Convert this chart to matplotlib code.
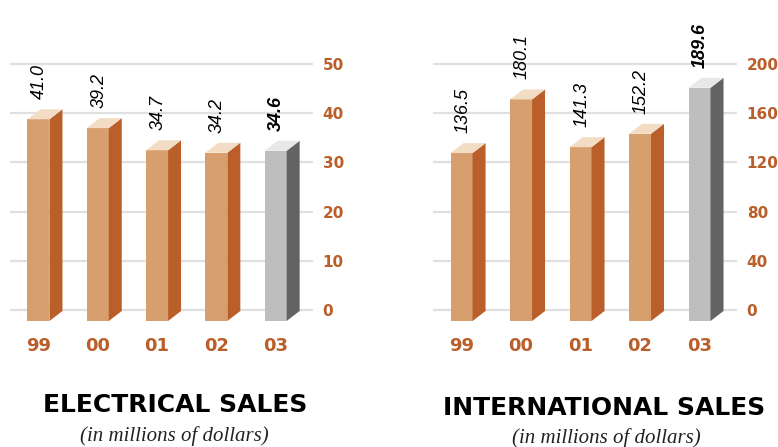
import matplotlib.pyplot as plt
from matplotlib.patches import Polygon

years = ['99', '00', '01', '02', '03']
electrical = [41.0, 39.2, 34.7, 34.2, 34.6]
international = [136.5, 180.1, 141.3, 152.2, 189.6]

ORANGE = '#BA5E2A'
FRONT, SIDE, TOP = '#D79E6E', '#BA5E2A', '#F2DCC4'
G_FRONT, G_SIDE, G_TOP = '#BEBEBE', '#636363', '#E8E8E8'

W, H = 778, 447
fig = plt.figure(figsize=(W / 100, H / 100), dpi=100)


def draw_panel(left_px, right_px, values, ymax, step):
    ax = fig.add_axes([left_px / W, 117 / H, (right_px - left_px) / W, 290 / H])
    ppu = 246 / ymax                      # pixels per y unit
    xlo, xhi = -0.48, 4.63
    upx = (xhi - xlo) / (right_px - left_px)  # x units per pixel
    ax.set_xlim(xlo, xhi)
    ax.set_ylim(-20 / ppu, ymax + 24 / ppu)

    bw = 22 * upx
    dx, dy = 13 * upx, 10 / ppu
    base = -11 / ppu
    xs = range(len(values))
    for i, v in zip(xs, values):
        last = i == len(values) - 1
        fc, sc, tc = (G_FRONT, G_SIDE, G_TOP) if last else (FRONT, SIDE, TOP)
        top = base + v
        ax.bar(i, v, width=bw, bottom=base, color=fc, zorder=3)
        r = i + bw / 2
        l = i - bw / 2
        ax.add_patch(Polygon([(r, base), (r + dx, base + dy), (r + dx, top + dy), (r, top)],
                             closed=True, fc=sc, ec='none', zorder=3))
        ax.add_patch(Polygon([(l, top), (r, top), (r + dx, top + dy), (l + dx, top + dy)],
                             closed=True, fc=tc, ec='none', zorder=3))
        ax.text(i + 1 * upx, top + dy + 10 / ppu, f'{v:.1f}', rotation=90, ha='center',
                va='bottom', family='Liberation Sans', style='italic', fontsize=13,
                fontweight='bold' if last else 'normal', color='black')

    ax.set_yticks(range(0, ymax + 1, step))
    ax.grid(axis='y', color='#E0E0E0', lw=1.6)
    ax.set_axisbelow(True)
    ax.yaxis.tick_right()
    ax.tick_params(axis='y', length=0, pad=7, labelcolor=ORANGE, labelsize=11)
    for t in ax.get_yticklabels():
        t.set_fontweight('bold')
    ax.set_xticks(list(xs), years)
    ax.tick_params(axis='x', length=0, pad=5, labelcolor=ORANGE, labelsize=13)
    for t in ax.get_xticklabels():
        t.set_fontweight('bold')
    for s in ax.spines.values():
        s.set_visible(False)
    return ax


draw_panel(10, 313, electrical, 50, 10)
draw_panel(433, 737, international, 200, 40)

fig.text(175 / W, 1 - 405 / H, 'ELECTRICAL SALES', ha='center', va='center',
         fontsize=18, fontweight='bold', color='black')
fig.text(174 / W, 1 - 436 / H, '(in millions of dollars)', ha='center', va='center',
         family='Liberation Serif', style='italic', fontsize=15, color='#222222')
fig.text(604 / W, 1 - 408 / H, 'INTERNATIONAL SALES', ha='center', va='center',
         fontsize=18, fontweight='bold', color='black')
fig.text(606 / W, 1 - 438 / H, '(in millions of dollars)', ha='center', va='center',
         family='Liberation Serif', style='italic', fontsize=15, color='#222222')

fig.savefig('out.png', dpi=100)
